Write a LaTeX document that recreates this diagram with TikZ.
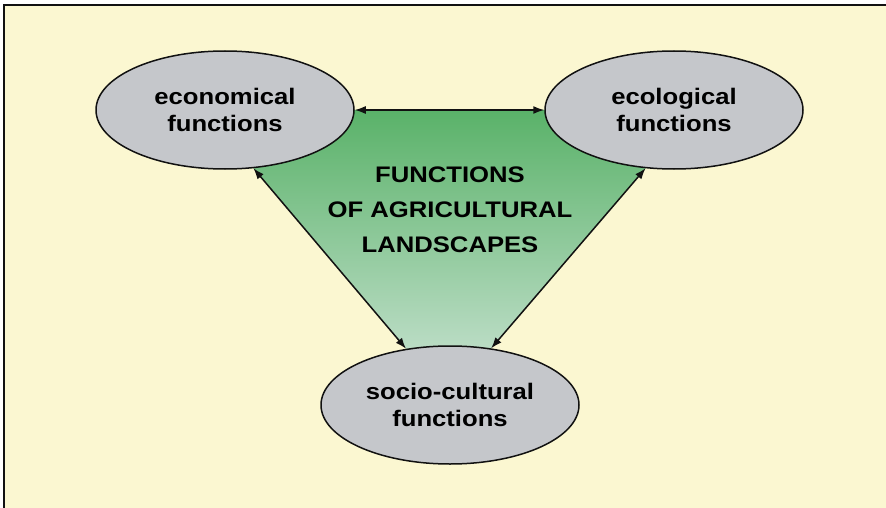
\documentclass[tikz,border=0pt]{standalone}
\usepackage{fontspec}
\setmainfont{Liberation Sans}
\newfontfamily\widesans[FakeStretch=1.14]{Liberation Sans}
\usepackage{tikz}
\usetikzlibrary{arrows.meta,shapes.geometric,backgrounds}
\definecolor{Paper}{HTML}{FBF7D1}
\definecolor{Cloud}{HTML}{C5C7CB}
\definecolor{LeafTop}{HTML}{5AB269}
\definecolor{LeafLow}{HTML}{BADCC4}
\definecolor{Ink}{HTML}{111111}

\begin{document}
\begin{tikzpicture}[x=1pt,y=-1pt,
  func/.style={ellipse,draw=Ink,line width=1.5pt,fill=Cloud,minimum width=258pt,minimum height=118pt,inner sep=0pt,
    align=center,font=\widesans\bfseries\fontsize{22.5}{27}\selectfont},
  link/.style={Ink,line width=1.5pt,{Latex[length=11pt,width=8pt]}-{Latex[length=11pt,width=8pt]}}]
\useasboundingbox (0,0) rectangle (886,508);
\node[func] (eco) at (225,110) {economical\\functions};
\node[func] (ecol) at (674,110) {ecological\\functions};
\node[func] (soc) at (450,405) {socio-cultural\\functions};
\node[align=center,font=\widesans\bfseries\fontsize{22.5}{35}\selectfont] (title) at (450,210) {FUNCTIONS\\OF AGRICULTURAL\\LANDSCAPES};
\draw[link] (eco) -- (ecol);
\draw[link] (eco.-64) -- (soc.128);
\draw[link] (ecol.-116) -- (soc.54);
\begin{pgfonlayer}{background}
\fill[white] (-5,-5) rectangle (895,515);
\fill[Paper] (4,5) rectangle (895,515);
\draw[Ink,line width=1.6pt] (4,515) -- (4,5) -- (895,5);
\shade[top color=LeafTop,bottom color=LeafLow] (eco.east) -- (ecol.west) -- (ecol.-116) -- (soc.54) -- (soc.128) -- (eco.-64) -- cycle;
\end{pgfonlayer}
\end{tikzpicture}
\end{document}
